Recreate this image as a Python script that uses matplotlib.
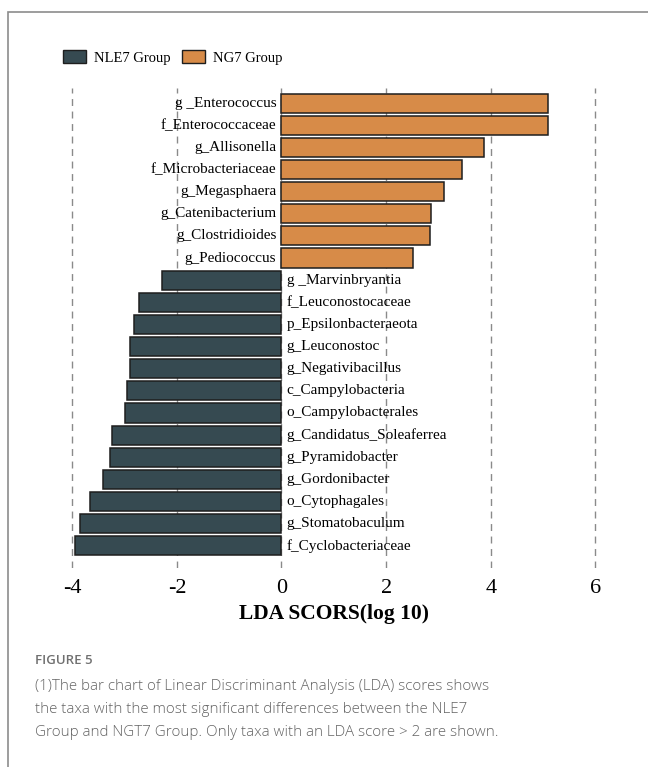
import numpy as np
import matplotlib.pyplot as plt
from matplotlib.patches import Patch, Rectangle

# LEfSe results, top to bottom
taxa = ['g _Enterococcus', 'f_Enterococcaceae', 'g_Allisonella', 'f_Microbacteriaceae',
        'g_Megasphaera', 'g_Catenibacterium', 'g_Clostridioides', 'g_Pediococcus',
        'g _Marvinbryantia', 'f_Leuconostocaceae', 'p_Epsilonbacteraeota', 'g_Leuconostoc',
        'g_Negativibacillus', 'c_Campylobacteria', 'o_Campylobacterales',
        'g_Candidatus_Soleaferrea', 'g_Pyramidobacter', 'g_Gordonibacter',
        'o_Cytophagales', 'g_Stomatobaculum', 'f_Cyclobacteriaceae']
lda = [5.10, 5.09, 3.88, 3.46, 3.11, 2.86, 2.84, 2.51,
       -2.29, -2.72, -2.82, -2.90, -2.90, -2.95, -2.99,
       -3.24, -3.28, -3.41, -3.67, -3.85, -3.94]
groups = ['NLE7 Group', 'NG7 Group']
ticks = [-4, -2, 0, 2, 4, 6]

dark = '#364a51'
orange = '#d78b48'
serif = 'Liberation Serif'

fig = plt.figure(figsize=(6.48, 7.67), dpi=100)
ax = fig.add_axes([0.0954, 0.2595, 0.8394, 0.6258])

y = np.arange(len(taxa))
lda = np.array(lda)
colors = [orange if v > 0 else dark for v in lda]
ax.barh(y, lda, height=0.86, color=colors, edgecolor='#1e1e1e', linewidth=1.1, zorder=2)

for yi, name, v in zip(y, taxa, lda):
    if v > 0:
        ax.text(-0.1, yi, name, ha='right', va='center', fontsize=11, family=serif, zorder=3)
    else:
        ax.text(0.1, yi, name, ha='left', va='center', fontsize=11, family=serif, zorder=3)

ax.set_xlim(-4.2, 6.2)
ax.set_ylim(21.0, -0.68)
ax.set_xticks(ticks)
ax.set_xticklabels([str(t) for t in ticks], fontsize=16, family=serif)
ax.set_yticks([])
ax.tick_params(axis='x', length=0, pad=8)
for s in ax.spines.values():
    s.set_visible(False)
ax.xaxis.grid(True, color='#8a8a8a', linestyle=(0, (5, 4)), linewidth=1.0, zorder=0)
ax.set_axisbelow(True)
ax.set_xlabel('LDA SCORS(log 10)', fontsize=15.5, fontweight='bold', family=serif, labelpad=4)

handles = [Patch(facecolor=dark, edgecolor='#1e1e1e', label=groups[0]),
           Patch(facecolor=orange, edgecolor='#1e1e1e', label=groups[1])]
fig.legend(handles=handles, loc='center left', bbox_to_anchor=(0.077, 0.925), ncol=2,
           frameon=False, prop={'family': serif, 'size': 10.5},
           handlelength=1.6, handleheight=0.95, columnspacing=0.8, handletextpad=0.5)

# outer frame of the figure panel
fig.add_artist(Rectangle((8 / 648, -0.1), 1.2, 1.1 - 12 / 767, transform=fig.transFigure,
                         fill=False, edgecolor='#8c8c8c', linewidth=1.2))

fig.text(35 / 648, 1 - 660 / 767, 'FIGURE 5', fontsize=9.5, color='#707070',
         family='Open Sans', va='center', fontweight='semibold')
caption = ('(1)The bar chart of Linear Discriminant Analysis (LDA) scores shows\n'
           'the taxa with the most significant differences between the NLE7\n'
           'Group and NGT7 Group. Only taxa with an LDA score > 2 are shown.')
fig.text(35 / 648, 1 - 679 / 767, caption, fontsize=10.9, color='#646464',
         family='Open Sans', va='top', linespacing=1.72, fontweight='light')

fig.savefig('out.png', dpi=100)
